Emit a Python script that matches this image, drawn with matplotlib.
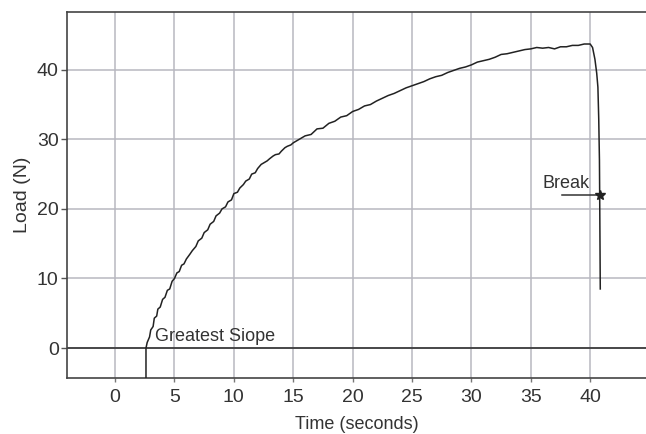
import matplotlib.pyplot as plt

# load curve
time_s = [2.6, 2.6, 2.7, 2.9, 3.0, 3.2, 3.3, 3.5, 3.6, 3.8, 4.0, 4.2, 4.4, 4.6, 4.8, 5.0,
          5.2, 5.4, 5.6, 5.8, 6.0, 6.3, 6.5, 6.8, 7.0, 7.3, 7.5, 7.8, 8.0, 8.3, 8.5,
          8.8, 9.0, 9.3, 9.5, 9.8, 10.0, 10.3, 10.5, 10.8, 11.0, 11.3, 11.5, 11.8,
          12.0, 12.3, 12.5, 12.8, 13.0, 13.3, 13.5, 13.8, 14.0, 14.3, 14.5, 14.8,
          15.0, 15.5, 16.0, 16.5, 17.0, 17.5, 18.0, 18.5, 19.0, 19.5, 20.0, 20.5,
          21.0, 21.5, 22.0, 22.5, 23.0, 23.5, 24.0, 24.5, 25.0, 25.5, 26.0, 26.5,
          27.0, 27.5, 28.0, 28.5, 29.0, 29.5, 30.0, 30.5, 31.0, 31.5, 32.0, 32.5,
          33.0, 33.5, 34.0, 34.5, 35.0, 35.5, 36.0, 36.5, 37.0, 37.5, 38.0, 38.5,
          39.0, 39.5, 40.0, 40.2, 40.4, 40.55, 40.65, 40.72, 40.78, 40.8, 40.85]
load_n = [-4.3, 0.0, 0.8, 1.6, 2.6, 3.1, 4.3, 4.6, 5.6, 5.9, 7.0, 7.3, 8.3, 8.5, 9.6, 10.0,
          10.8, 11.0, 11.9, 12.1, 12.8, 13.5, 14.0, 14.6, 15.4, 15.8, 16.6, 17.0, 17.8,
          18.2, 19.0, 19.4, 20.0, 20.3, 21.0, 21.3, 22.2, 22.4, 23.0, 23.5, 24.0, 24.3,
          25.0, 25.2, 25.8, 26.4, 26.6, 26.9, 27.2, 27.6, 27.8, 27.9, 28.3, 28.8, 29.0,
          29.2, 29.5, 30.0, 30.5, 30.7, 31.5, 31.6, 32.3, 32.6, 33.2, 33.4, 34.0, 34.3,
          34.8, 35.0, 35.5, 35.9, 36.3, 36.6, 37.0, 37.4, 37.7, 38.0, 38.3, 38.7, 39.0,
          39.2, 39.6, 39.9, 40.2, 40.4, 40.7, 41.1, 41.3, 41.5, 41.8, 42.2, 42.3, 42.5,
          42.7, 42.9, 43.0, 43.2, 43.1, 43.2, 43.0, 43.3, 43.3, 43.5, 43.5, 43.7, 43.7,
          43.2, 41.5, 39.5, 37.5, 33.0, 27.0, 22.0, 8.5]

break_t, break_load = 40.8, 22.0
x_ticks = [0, 5, 10, 15, 20, 25, 30, 35, 40]
y_ticks = [0, 10, 20, 30, 40]

plt.rcParams['font.family'] = ['Liberation Sans', 'DejaVu Sans']

fig = plt.figure(figsize=(6.46, 4.34), dpi=100)
ax = fig.add_axes([67 / 646, 1 - 378 / 434, 1 - 67 / 646, 366 / 434])

ax.plot(time_s, load_n, color='#222222', lw=1.1, zorder=3)
ax.axhline(0, color='#333333', lw=1.2, zorder=2)
ax.plot([break_t], [break_load], marker='*', color='#222222', ms=7, zorder=4)
ax.plot([37.6, break_t], [break_load, break_load], color='#333333', lw=1.1, zorder=3)
ax.text(3.4, 0.5, 'Greatest Siope', fontsize=13, color='#333333', va='bottom', ha='left')
ax.text(36.0, 22.5, 'Break', fontsize=13, color='#333333', va='bottom', ha='left')

ax.set_xlim(-4.05, 44.7)
ax.set_ylim(-4.3, 48.3)
ax.set_xticks(x_ticks)
ax.set_yticks(y_ticks)
ax.grid(True, color='#b8b8c0', lw=1.1)
ax.set_axisbelow(True)
ax.tick_params(axis='x', length=3, width=1, pad=5, color='#777777', labelsize=14, labelcolor='#333333')
ax.tick_params(axis='y', length=4, width=1, pad=2, color='#555555', labelsize=14, labelcolor='#333333')
for side in ['left', 'top', 'bottom']:
    ax.spines[side].set_color('#444444')
    ax.spines[side].set_linewidth(1.2)
ax.spines['right'].set_visible(False)

ax.set_xlabel('Time (seconds)', fontsize=13, color='#333333', labelpad=7)
ax.set_ylabel('Load (N)', fontsize=14, color='#333333', labelpad=4)

fig.savefig('out.png', dpi=100)
